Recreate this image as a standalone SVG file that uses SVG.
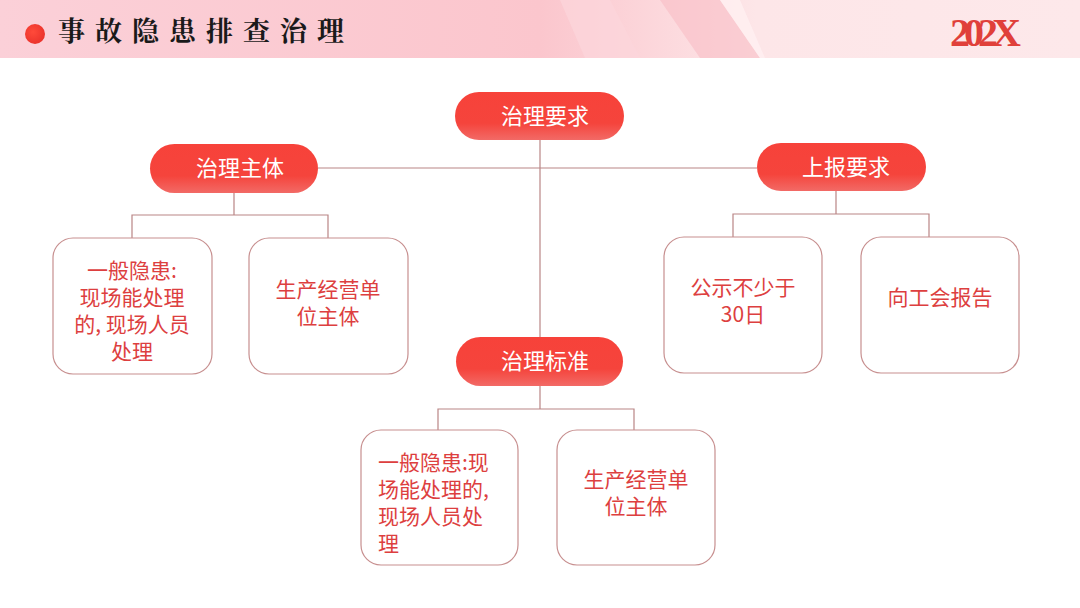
<svg xmlns="http://www.w3.org/2000/svg" width="1080" height="608" viewBox="0 0 1080 608">
<defs>
<linearGradient id="hdr" x1="0" y1="0" x2="1" y2="0">
<stop offset="0" stop-color="#fbd0d8"/>
<stop offset="0.5" stop-color="#fbc6cd"/>
<stop offset="0.7" stop-color="#fde6e8"/>
<stop offset="1" stop-color="#fde8ea"/>
</linearGradient>
<linearGradient id="pill" x1="0" y1="0" x2="0" y2="1">
<stop offset="0" stop-color="#f7423a"/>
<stop offset="0.65" stop-color="#f5443c"/>
<stop offset="1" stop-color="#f26a66"/>
</linearGradient>
<radialGradient id="dot" cx="0.4" cy="0.4" r="0.7">
<stop offset="0" stop-color="#ff4a3a"/>
<stop offset="1" stop-color="#e8302a"/>
</radialGradient>
</defs>
<style>
.pill{fill:url(#pill);}
.pt{font-family:"Noto Sans CJK SC","Noto Sans",sans-serif;font-size:22px;fill:#ffffff;text-anchor:middle;}
.box{fill:#ffffff;stroke:#c78f8f;stroke-width:1.2;}
.bt{font-family:"Noto Sans CJK SC","Noto Sans",sans-serif;font-size:21px;fill:#dd3f3f;text-anchor:middle;}
.btl{font-family:"Noto Sans CJK SC","Noto Sans",sans-serif;font-size:21px;fill:#dd3f3f;}
.ln{fill:none;stroke:#b98585;stroke-width:1.2;}
</style>
<rect width="1080" height="608" fill="#ffffff"/>
<g id="header">
<rect x="0" y="0" width="1080" height="58" fill="url(#hdr)"/>
<polygon points="560,0 610,0 640,58 585,58" fill="#fcd6db" opacity="0.7"/>
<polygon points="660,0 720,0 760,58 700,58" fill="#f9bcc4" opacity="0.6"/>
<polygon points="720,0 740,0 765,58 760,58" fill="#fff0f1" opacity="0.8"/>
<circle cx="35" cy="34" r="10" fill="url(#dot)"/>
<text x="58" y="41" font-family="'Noto Serif CJK SC','Noto Sans CJK SC',serif" font-weight="bold" font-size="27" letter-spacing="10" fill="#1a1a1a">事故隐患排查治理</text>
<text x="950" y="46" font-family="'Liberation Serif',serif" font-size="40" font-weight="bold" letter-spacing="-6" fill="#e0403a">202X</text>
</g>
<g id="connectors">
<line class="ln" x1="540" y1="140" x2="540" y2="337"/>
<line class="ln" x1="318" y1="168" x2="757" y2="168"/>
<path class="ln" d="M234,193 V215 M132,238 V215 H328 V238"/>
<path class="ln" d="M836,191 V214 M733,237 V214 H929 V237"/>
<path class="ln" d="M540,386 V409 M438,430 V409 H634 V430"/>
</g>
<g id="n-zlyq"><rect class="pill" x="455" y="92" width="169" height="48" rx="24"/><text class="pt" x="545" y="124">治理要求</text></g>
<g id="n-zlzt"><rect class="pill" x="150" y="144" width="168" height="49" rx="24.5"/><text class="pt" x="240" y="176">治理主体</text></g>
<g id="n-sbyq"><rect class="pill" x="757" y="143" width="169" height="48" rx="24"/><text class="pt" x="846" y="175">上报要求</text></g>
<g id="n-zlbz"><rect class="pill" x="456" y="337" width="167" height="49" rx="24.5"/><text class="pt" x="545" y="369">治理标准</text></g>
<g id="b1"><rect class="box" x="53" y="238" width="159" height="136" rx="20"/>
<text class="bt" x="132"><tspan x="132" y="278">一般隐患:</tspan><tspan x="132" y="305">现场能处理</tspan><tspan x="132" y="332">的, 现场人员</tspan><tspan x="132" y="359">处理</tspan></text></g>
<g id="b2"><rect class="box" x="249" y="238" width="159" height="136" rx="20"/>
<text class="bt" x="328"><tspan x="328" y="297">生产经营单</tspan><tspan x="328" y="324">位主体</tspan></text></g>
<g id="b3"><rect class="box" x="664" y="237" width="158" height="136" rx="20"/>
<text class="bt" x="743"><tspan x="743" y="295">公示不少于</tspan><tspan x="743" y="322">30日</tspan></text></g>
<g id="b4"><rect class="box" x="861" y="237" width="158" height="136" rx="20"/>
<text class="bt" x="940" y="305">向工会报告</text></g>
<g id="b5"><rect class="box" x="361" y="430" width="157" height="135" rx="20"/>
<text class="btl"><tspan x="378" y="470">一般隐患:现</tspan><tspan x="378" y="497">场能处理的,</tspan><tspan x="378" y="524">现场人员处</tspan><tspan x="378" y="551">理</tspan></text></g>
<g id="b6"><rect class="box" x="557" y="430" width="158" height="135" rx="20"/>
<text class="bt" x="636"><tspan x="636" y="487">生产经营单</tspan><tspan x="636" y="514">位主体</tspan></text></g>
</svg>
